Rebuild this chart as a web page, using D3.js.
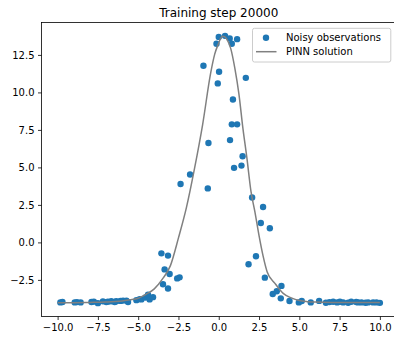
<!DOCTYPE html>
<html>
<head>
<meta charset="utf-8">
<script src="https://cdn.jsdelivr.net/npm/d3@7"></script>
<style>
  html, body { margin: 0; padding: 0; background: #fff; }
  svg { display: block; font-family: "DejaVu Sans", sans-serif; }
</style>
</head>
<body>
<svg id="chart" width="394" height="343"></svg>
<script>
// Noisy observations (x, u)
const obsX = [
  -9.83, -9.70, -8.94, -8.80, -8.57, -7.90, -7.75, -7.50, -7.19, -6.98,
  -6.88, -6.67, -6.46, -6.36, -6.10, -5.94, -5.73, -5.63, -5.11, -4.91,
  -4.80, -4.55, -4.39, -4.29, -4.08,
  -3.56, -3.46, -3.36, -3.15, -3.15, -3.05, -2.58, -2.43,
  -2.37, -1.78, -0.95, -0.68, -0.64,
  -0.14, -0.06, 0.00, 0.02, 0.39, 0.68, 0.70, 0.81, 0.81, 0.88,
  0.95, 1.14, 1.14, 1.41, 1.48, 1.68,
  1.85, 2.07, 2.31, 2.61, 2.75, 2.86, 3.17, 3.35, 3.60, 3.85,
  3.89, 4.39, 4.97, 5.15, 5.71, 6.23,
  6.65, 6.87, 7.10, 7.35, 7.52, 7.72, 8.03, 8.22, 8.53, 8.65,
  8.86, 9.11, 9.27, 9.58, 9.79, 10.00
];
const obsY = [
  -4.00, -3.97, -4.00, -3.98, -4.00, -3.97, -3.95, -4.05, -3.93, -3.98,
  -3.95, -3.92, -3.97, -3.92, -3.90, -3.88, -3.88, -3.97, -3.85, -3.78,
  -3.80, -3.67, -3.49, -3.80, -3.65,
  -0.73, -2.79, -1.80, -0.88, -3.07, -2.11, -2.40, -2.33,
  3.89, 4.53, 11.78, 3.60, 6.63,
  13.24, 10.60, 13.70, 11.38, 13.77, 13.60, 6.82, 13.24, 7.87, 9.53,
  4.97, 7.87, 13.55, 5.12, 5.74, 10.97,
  -1.46, 2.99, -0.92, 1.29, 2.36, -2.35, 0.94, -3.44, -3.26, -3.73,
  -2.90, -3.91, -4.00, -3.91, -4.00, -3.90,
  -4.02, -3.98, -3.96, -4.00, -3.96, -4.00, -4.02, -3.96, -3.97, -4.00,
  -4.00, -4.02, -4.00, -4.00, -4.00, -4.03
];

// PINN solution sampled along x
const solX = [
  -10, -9, -8, -7, -6, -5.5, -5, -4.5, -4, -3.5, -3, -2.5, -2, -1.5, -1, -0.5, -0.25,
  0, 0.125, 0.25, 0.375, 0.5, 0.75, 1, 1.25, 1.5, 1.75, 2, 2.25, 2.5, 2.75, 3, 3.5, 4, 4.5,
  5, 5.5, 6, 7, 8, 9, 10
];
const solY = [
  -4.03, -4.02, -4.00, -3.97, -3.90, -3.83, -3.72, -3.45, -3.10, -2.45, -1.55, 0.30, 2.35, 4.95, 7.86, 11.30, 12.55,
  13.30, 13.62, 13.74, 13.70, 13.55, 12.90, 11.60, 9.90, 7.60, 5.60, 3.40, 2.00, 0.45, -0.90, -1.95, -2.75, -3.40, -3.70,
  -3.88, -3.95, -3.98, -4.00, -4.00, -4.00, -4.00
];

const xTicks = [-10, -7.5, -5, -2.5, 0, 2.5, 5, 7.5, 10];
const yTicks = [-2.5, 0, 2.5, 5, 7.5, 10, 12.5];
const titleText = "Training step 20000";
const legendLabels = ["Noisy observations", "PINN solution"];

const svg = d3.select("#chart");
const plot = { left: 41.5, right: 396, top: 22.5, bottom: 316.5 };

// Data limits with 5% padding on each side
function padded(values) {
  const [lo, hi] = d3.extent(values);
  const m = (hi - lo) * 0.05;
  return [lo - m, hi + m];
}

const x = d3.scaleLinear()
  .domain(padded(solX.concat(obsX)))
  .range([plot.left, plot.right]);
const y = d3.scaleLinear()
  .domain(padded(solY.concat(obsY)))
  .range([plot.bottom, plot.top]);

const fmt = d3.format(".1f");

// Observations
svg.append("g")
  .selectAll("circle")
  .data(obsX.map((v, i) => [v, obsY[i]]))
  .join("circle")
  .attr("cx", d => x(d[0]))
  .attr("cy", d => y(d[1]))
  .attr("r", 3.2)
  .attr("fill", "#1f77b4");

// Solution curve
const line = d3.line()
  .x(d => x(d[0]))
  .y(d => y(d[1]))
  .curve(d3.curveMonotoneX);
svg.append("path")
  .datum(solX.map((v, i) => [v, solY[i]]))
  .attr("d", line)
  .attr("fill", "none")
  .attr("stroke", "#808080")
  .attr("stroke-width", 1.5);

// Axes
const xAxis = svg.append("g")
  .attr("transform", `translate(0,${plot.bottom})`)
  .call(d3.axisBottom(x).tickValues(xTicks).tickFormat(fmt).tickSize(3.5).tickPadding(3.5));
const yAxis = svg.append("g")
  .attr("transform", `translate(${plot.left},0)`)
  .call(d3.axisLeft(y).tickValues(yTicks).tickFormat(fmt).tickSize(3.5).tickPadding(3.5));
[xAxis, yAxis].forEach(g => {
  g.select(".domain").remove();
  g.selectAll(".tick line").attr("stroke", "#000").attr("stroke-width", 0.8);
  g.selectAll(".tick text")
    .attr("fill", "#000")
    .style("font-family", "DejaVu Sans, sans-serif")
    .style("font-size", "10px");
});

// Spines
const spines = svg.append("g").attr("stroke", "#000").attr("stroke-width", 0.8).attr("fill", "none");
spines.append("rect")
  .attr("x", plot.left).attr("y", plot.top)
  .attr("width", plot.right - plot.left)
  .attr("height", plot.bottom - plot.top);

// Title
svg.append("text")
  .attr("x", (plot.left + plot.right) / 2)
  .attr("y", plot.top - 6)
  .attr("text-anchor", "middle")
  .style("font-size", "12px")
  .attr("fill", "#000")
  .text(titleText);

// Legend
const lg = svg.append("g");
lg.append("rect")
  .attr("x", 252.5).attr("y", 28.3)
  .attr("width", 138.3).attr("height", 33.7)
  .attr("rx", 2).attr("ry", 2)
  .attr("fill", "#fff").attr("fill-opacity", 0.8)
  .attr("stroke", "#cccccc").attr("stroke-width", 1);
lg.append("circle")
  .attr("cx", 266).attr("cy", 37.7).attr("r", 3.2)
  .attr("fill", "#1f77b4");
lg.append("line")
  .attr("x1", 256).attr("x2", 276.5)
  .attr("y1", 51.7).attr("y2", 51.7)
  .attr("stroke", "#808080").attr("stroke-width", 1.5);
lg.selectAll("text")
  .data(legendLabels)
  .join("text")
  .attr("x", 286)
  .attr("y", (d, i) => 37.7 + i * 14)
  .attr("dy", "0.35em")
  .style("font-size", "10px")
  .attr("fill", "#000")
  .text(d => d);
</script>
</body>
</html>
